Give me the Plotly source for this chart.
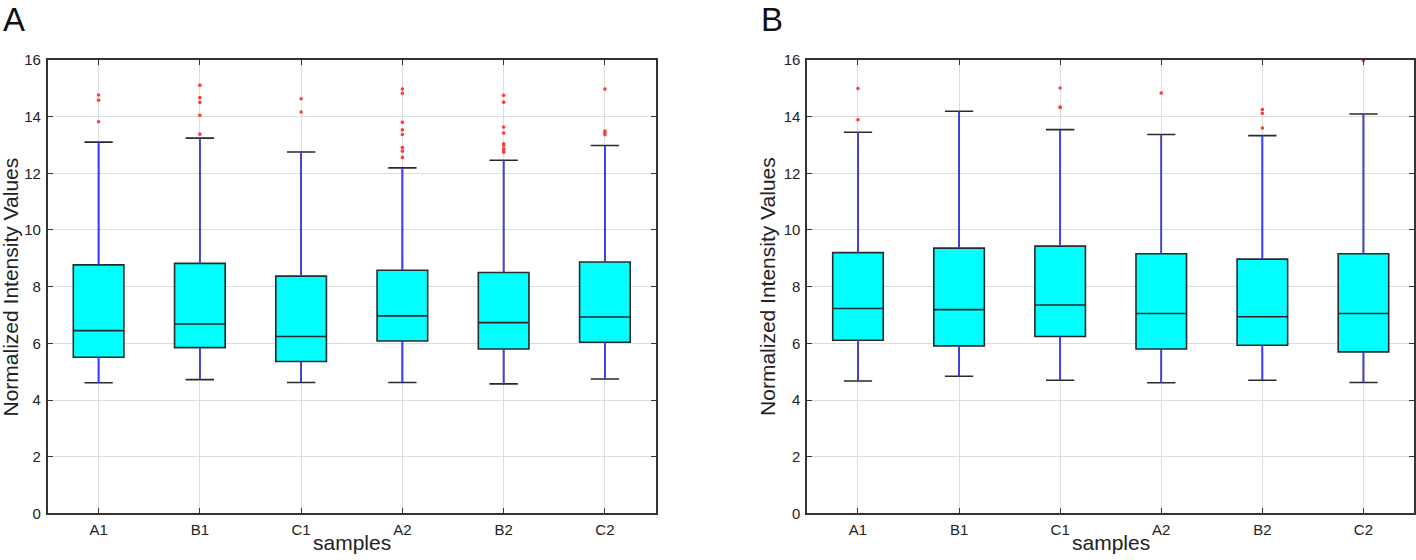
import plotly.graph_objects as go

W, H = 1416, 560

samples = ["A1", "B1", "C1", "A2", "B2", "C2"]

# Panel A (box statistics)
a_lower = [4.61, 4.72, 4.62, 4.62, 4.57, 4.74]
a_q1 = [5.51, 5.85, 5.36, 6.08, 5.80, 6.04]
a_median = [6.45, 6.68, 6.24, 6.97, 6.73, 6.93]
a_q3 = [8.77, 8.82, 8.37, 8.58, 8.50, 8.87]
a_upper = [13.10, 13.24, 12.75, 12.19, 12.46, 12.98]
a_outliers = {
    "A1": [14.76, 14.58, 13.82],
    "B1": [15.11, 14.67, 14.50, 14.05, 13.38],
    "C1": [14.63, 14.16],
    "A2": [14.97, 14.82, 13.80, 13.53, 13.37, 12.91, 12.78, 12.56],
    "B2": [14.75, 14.51, 13.63, 13.42, 13.04, 12.99, 12.86, 12.80, 12.74],
    "C2": [14.97, 13.49, 13.42, 13.36],
}

# Panel B
b_lower = [4.67, 4.84, 4.70, 4.61, 4.70, 4.62]
b_q1 = [6.11, 5.91, 6.24, 5.80, 5.93, 5.70]
b_median = [7.23, 7.19, 7.35, 7.05, 6.94, 7.05]
b_q3 = [9.20, 9.36, 9.43, 9.16, 8.97, 9.16]
b_upper = [13.45, 14.19, 13.54, 13.37, 13.33, 14.09]
b_outliers = {
    "A1": [14.99, 13.89],
    "B1": [],
    "C1": [15.01, 14.34, 14.32],
    "A2": [14.83],
    "B2": [14.25, 14.12, 13.60],
    "C2": [15.98],
}

y_ticks = [0, 2, 4, 6, 8, 10, 12, 14, 16]

FONT = "Arial, Liberation Sans, Helvetica, sans-serif"
AXIS_COL = "#333333"

# the photographed page shows the figure at screen_y = 8 + 0.9714 * fig_y
def fy(screen_y):
    return (screen_y - 8) / 0.9714


fig = go.Figure()


def add_panel(xa, ya, lower, q1, med, q3, upper, outliers):
    fig.add_trace(go.Box(
        x=samples, q1=q1, median=med, q3=q3,
        lowerfence=lower, upperfence=upper,
        fillcolor="#00FFFF",
        line=dict(color="#2a2a2a", width=1.6),
        width=0.5, whiskerwidth=0.56,
        boxpoints=False, showlegend=False, hoverinfo="skip",
        xaxis=xa, yaxis=ya,
    ))
    wx, wy = [], []
    for s, lo, a, b, hi in zip(samples, lower, q1, q3, upper):
        wx += [s, s, None, s, s, None]
        wy += [b, hi, None, a, lo, None]
    fig.add_trace(go.Scatter(
        x=wx, y=wy, mode="lines",
        line=dict(color="#3d3dff", width=1.6),
        showlegend=False, hoverinfo="skip", xaxis=xa, yaxis=ya,
    ))
    ox, oy = [], []
    for s in samples:
        for v in outliers[s]:
            ox.append(s)
            oy.append(v)
    fig.add_trace(go.Scatter(
        x=ox, y=oy, mode="markers",
        marker=dict(color="#ff3b3b", size=3.6, line=dict(width=0)),
        showlegend=False, hoverinfo="skip", xaxis=xa, yaxis=ya,
        cliponaxis=True,
    ))


add_panel("x", "y", a_lower, a_q1, a_median, a_q3, a_upper, a_outliers)
add_panel("x2", "y2", b_lower, b_q1, b_median, b_q3, b_upper, b_outliers)

ydom = [1 - fy(513.3) / H, 1 - fy(59) / H]
xdomA = [48 / W, 656 / W]
xdomB = [808 / W, 1415 / W]

common_x = dict(
    type="category", categoryorder="array", categoryarray=samples,
    range=[-0.5, 5.5], showline=True, linecolor=AXIS_COL, linewidth=2,
    mirror="ticks", ticks="inside", ticklen=5, tickcolor=AXIS_COL,
    showgrid=True, gridcolor="#dddddd", gridwidth=1, zeroline=False,
    tickfont=dict(family=FONT, size=15, color="#222222"),
    ticklabelstandoff=2,
)
common_y = dict(
    range=[0, 16], tickvals=y_ticks, showline=True, linecolor=AXIS_COL,
    linewidth=2, mirror="ticks", ticks="inside", ticklen=5,
    tickcolor=AXIS_COL, showgrid=True, gridcolor="#dddddd", gridwidth=1,
    zeroline=False, tickfont=dict(family=FONT, size=15, color="#222222"),
    ticklabelstandoff=2,
)

fig.update_layout(
    width=W, height=H,
    margin=dict(l=0, r=0, t=0, b=0),
    paper_bgcolor="white", plot_bgcolor="white",
    xaxis=dict(domain=xdomA, anchor="y", **common_x),
    yaxis=dict(domain=ydom, anchor="x", **common_y),
    xaxis2=dict(domain=xdomB, anchor="y2", **common_x),
    yaxis2=dict(domain=ydom, anchor="x2", **common_y),
    font=dict(family=FONT, color="#222222"),
)

ann = []
for letter, xl in (("A", 1), ("B", 760)):
    ann.append(dict(text=letter, x=xl / W, y=1 + 10 / H, xref="paper",
                    yref="paper", xanchor="left", yanchor="top",
                    showarrow=False, font=dict(family=FONT, size=33,
                                               color="#111111")))
for xc in (11, 768):
    ann.append(dict(text="Normalized Intensity Values", x=xc / W,
                    y=1 - fy(286) / H, xref="paper", yref="paper",
                    xanchor="center", yanchor="middle", textangle=-90,
                    showarrow=False,
                    font=dict(family=FONT, size=21, color="#222222")))
for xc in ((48 + 656) / 2, (808 + 1415) / 2):
    ann.append(dict(text="samples", x=xc / W, y=1 - fy(542) / H,
                    xref="paper", yref="paper",
                    xanchor="center", yanchor="middle",
                    showarrow=False,
                    font=dict(family=FONT, size=21, color="#222222")))
fig.update_layout(annotations=ann)

post = (
    "document.documentElement.style.overflow='hidden';"
    "document.body.style.margin='0';"
    "document.body.style.overflow='hidden';"
    "var gd=document.getElementById('{plot_id}');"
    "gd.style.position='fixed';gd.style.top='0px';gd.style.left='0px';"
)
fig.write_html("out.html", config={"displayModeBar": False},
               post_script=post)
